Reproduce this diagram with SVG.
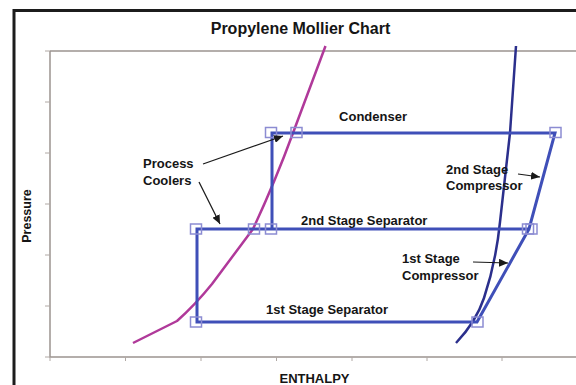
<svg xmlns="http://www.w3.org/2000/svg" width="576" height="385" viewBox="0 0 576 385">
  <style>
    text { font-family: "Liberation Sans", Arial, sans-serif; font-weight: bold; fill: #151515; }
    .lbl { font-size: 13px; }
    .axis { stroke: #9c9490; stroke-width: 1.5; fill: none; }
    .tick { stroke: #b0a8a4; stroke-width: 1; }
    .cycle { stroke: #3f4fb8; stroke-width: 3; fill: none; stroke-linejoin: miter; }
    .pt { stroke: #8c8cd2; stroke-width: 1.5; fill: none; }
    .arrow { stroke: #1a1a1a; stroke-width: 1.2; fill: none; marker-end: url(#ah); }
  </style>
  <defs>
    <marker id="ah" markerUnits="userSpaceOnUse" markerWidth="10" markerHeight="8" refX="9" refY="4" orient="auto">
      <path d="M0,0 L9,4 L0,8 Z" fill="#1a1a1a"/>
    </marker>
  </defs>
  <rect width="576" height="385" fill="#ffffff"/>
  <g id="frame">
    <path d="M14,385 L14,10.5 L576,10.5" stroke="#1c1c1c" stroke-width="3" fill="none"/>
  </g>
  <g id="axes">
    <path class="axis" d="M50,51 L576,51 M50,51 L50,357 L576,357"/>
    <path class="tick" d="M45,51 H50 M45,102 H50 M45,153 H50 M45,204 H50 M45,255 H50 M45,306 H50 M45,357 H50"/>
    <path class="tick" d="M50,357 V361 M125.5,357 V361 M201,357 V361 M276.5,357 V361 M352,357 V361 M427,357 V361 M502,357 V361"/>
  </g>
  <g id="saturated-liquid">
    <path d="M133,343 L177,321 Q195,305 212,284 L253,229 Q275,182 293,133 L325.5,46" stroke="#b0399a" stroke-width="2.5" fill="none" stroke-linejoin="round"/>
  </g>
  <g id="saturated-vapor">
    <path d="M516,46 L510,133 L500,222 Q496,262 484,298 Q476,322 456,343" stroke="#2b2f8c" stroke-width="2.5" fill="none"/>
  </g>
  <g id="cycle">
    <path class="cycle" d="M272,229 L272,133 L555,133 L529,229 L197,229 L197,322 L477,322 L529,229"/>
  </g>
  <g id="state-points">
    <rect class="pt" x="265.5" y="127.5" width="11" height="10"/>
    <rect class="pt" x="291" y="127.5" width="11" height="10"/>
    <rect class="pt" x="550" y="127.5" width="11" height="10"/>
    <rect class="pt" x="190.5" y="224" width="11" height="10"/>
    <rect class="pt" x="248.5" y="224" width="11" height="10"/>
    <rect class="pt" x="265.5" y="224" width="11" height="10"/>
    <rect class="pt" x="522.5" y="224" width="11" height="10"/>
    <rect class="pt" x="526" y="224" width="11" height="10"/>
    <rect class="pt" x="190.5" y="317" width="11" height="10"/>
    <rect class="pt" x="472" y="317" width="11" height="10"/>
  </g>
  <g id="connectors">
    <path class="arrow" d="M203,164 L283,136"/>
    <path class="arrow" d="M199,182 L220,224"/>
    <path class="arrow" d="M518,174 L540,177"/>
    <path class="arrow" d="M473,262 L508,263"/>
  </g>
  <g id="title"><text x="300.5" y="34" font-size="16" text-anchor="middle">Propylene Mollier Chart</text></g>
  <g id="label-condenser"><text class="lbl" x="373" y="121" text-anchor="middle">Condenser</text></g>
  <g id="label-process-coolers">
    <text class="lbl" x="143" y="168">Process</text>
    <text class="lbl" x="143" y="185">Coolers</text>
  </g>
  <g id="label-2nd-separator"><text class="lbl" x="301" y="225">2nd Stage Separator</text></g>
  <g id="label-1st-separator"><text class="lbl" x="266" y="314">1st Stage Separator</text></g>
  <g id="label-2nd-compressor">
    <text class="lbl" x="446" y="174">2nd Stage</text>
    <text class="lbl" x="446" y="190">Compressor</text>
  </g>
  <g id="label-1st-compressor">
    <text class="lbl" x="402" y="263">1st Stage</text>
    <text class="lbl" x="402" y="280">Compressor</text>
  </g>
  <g id="label-pressure"><text x="31" y="216" font-size="12.5" text-anchor="middle" transform="rotate(-90 31 216)">Pressure</text></g>
  <g id="label-enthalpy"><text class="lbl" x="314.5" y="383" text-anchor="middle">ENTHALPY</text></g>
</svg>
